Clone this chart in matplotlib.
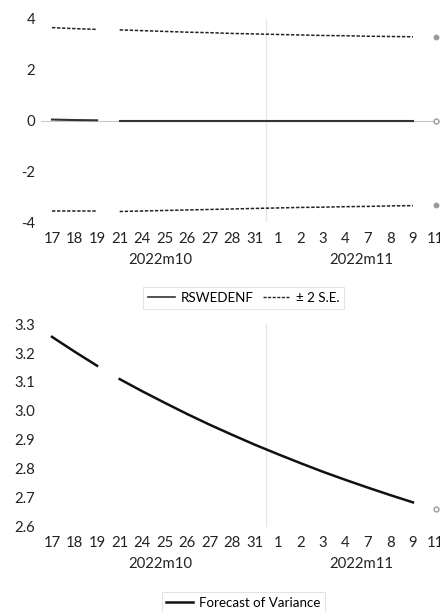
import matplotlib
matplotlib.use("Agg")
import matplotlib.pyplot as plt

plt.rcParams["font.family"] = ["Lato", "DejaVu Sans"]

# trading days, oct 17 -> nov 11 (line breaks after 19 and after 9)
day_labels = ["17", "18", "19", "21", "24", "25", "26", "27", "28", "31",
              "1", "2", "3", "4", "7", "8", "9", "11"]
month_labels = ["2022m10", "2022m11"]
segments = [(0, 3), (3, 17)]   # index ranges drawn as lines
lone = 17                      # last obs only shown as a marker

# forecast of the mean and the +/- 2 S.E. bands
forecast = [0.04, 0.02, 0.01, 0.0, 0.0, 0.0, 0.0, 0.0, 0.0, 0.0,
            0.0, 0.0, 0.0, 0.0, 0.0, 0.0, 0.0, 0.0]
upper = [3.66, 3.62, 3.59, 3.57, 3.54, 3.51, 3.48, 3.46, 3.43, 3.41,
         3.39, 3.37, 3.35, 3.34, 3.32, 3.31, 3.30, 3.29]
lower = [-3.58, -3.58, -3.58, -3.58, -3.56, -3.54, -3.52, -3.50, -3.48, -3.46,
         -3.44, -3.42, -3.41, -3.39, -3.38, -3.36, -3.35, -3.33]

# forecast of variance
variance = [3.256, 3.205, 3.156, 3.110, 3.068, 3.028, 2.989, 2.952, 2.917, 2.883,
            2.851, 2.820, 2.790, 2.762, 2.735, 2.709, 2.684, 2.660]

TXT = "#222222"
GRID = "#e6e6e6"
FS = 10.7


def style_axis(ax, ylim, yticks, fmt):
    n = len(day_labels)
    ax.set_xlim(-0.5, n - 0.5)
    ax.set_ylim(*ylim)
    ax.set_xticks(range(n))
    ax.set_xticklabels(day_labels)
    ax.set_yticks(yticks)
    ax.set_yticklabels([fmt(v) for v in yticks])
    ax.tick_params(length=0, labelsize=FS, colors=TXT)
    ax.tick_params(axis="x", pad=7)
    ax.tick_params(axis="y", pad=4)
    for s in ax.spines.values():
        s.set_visible(False)
    # month separator between 31 and 1
    ax.axvline(9.5, color=GRID, lw=0.9, zorder=0)
    for lab, xpos in zip(month_labels, [4.8, 13.7]):
        ax.annotate(lab, xy=(xpos, 0), xycoords=ax.get_xaxis_transform(),
                    xytext=(0, -27), textcoords="offset points",
                    ha="center", va="center", fontsize=FS, color=TXT)


def draw_series(ax, values, **kw):
    x = list(range(len(values)))
    for a, b in segments:
        ax.plot(x[a:b], values[a:b], **kw)


def boxed_legend(handles, names, anchor, ncol=1):
    leg = fig.legend(handles, names, loc="center", bbox_to_anchor=anchor,
                     ncol=ncol, fontsize=9.6, handlelength=2.0,
                     handletextpad=0.45, columnspacing=0.75,
                     fancybox=False, borderpad=0.35, borderaxespad=0)
    leg.get_frame().set_edgecolor("#dddddd")
    leg.get_frame().set_linewidth(0.8)
    return leg


fig = plt.figure(figsize=(4.4, 6.12), dpi=100)

# top panel: mean forecast with bands
ax1 = fig.add_axes([0.0925, 0.637, 0.923, 0.332])
ax1.axhline(0, color="#c8c8c8", lw=0.8, zorder=0)
draw_series(ax1, forecast, color="#333333", lw=1.5)
draw_series(ax1, upper, color="#222222", lw=1.1, linestyle=(0, (2.2, 1.1)))
draw_series(ax1, lower, color="#222222", lw=1.1, linestyle=(0, (2.2, 1.1)))
ax1.plot(lone, upper[lone], "o", ms=3.2, color="#9a9a9a")
ax1.plot(lone, lower[lone], "o", ms=3.2, color="#9a9a9a")
ax1.plot(lone, forecast[lone], "o", ms=3.5, mfc="white", mec="#9a9a9a", mew=1)
style_axis(ax1, (-4, 4), [-4, -2, 0, 2, 4], lambda v: str(int(v)))

h1 = plt.Line2D([], [], color="#333333", lw=1.2)
h2 = plt.Line2D([], [], color="#222222", lw=1.0, linestyle=(0, (2.2, 1.1)))
boxed_legend([h1, h2], ["RSWEDENF", "± 2 S.E."], (0.554, 0.513), ncol=2)

# bottom panel: variance forecast
ax2 = fig.add_axes([0.0925, 0.1394, 0.923, 0.331])
draw_series(ax2, variance, color="#111111", lw=1.8)
ax2.plot(lone, variance[lone], "o", ms=3.5, mfc="white", mec="#9a9a9a", mew=1)
style_axis(ax2, (2.6, 3.3), [2.6, 2.7, 2.8, 2.9, 3.0, 3.1, 3.2, 3.3],
           lambda v: "%.1f" % v)

h3 = plt.Line2D([], [], color="#111111", lw=1.8)
boxed_legend([h3], ["Forecast of Variance"], (0.553, 0.0145))

fig.savefig("out.png", dpi=100)
